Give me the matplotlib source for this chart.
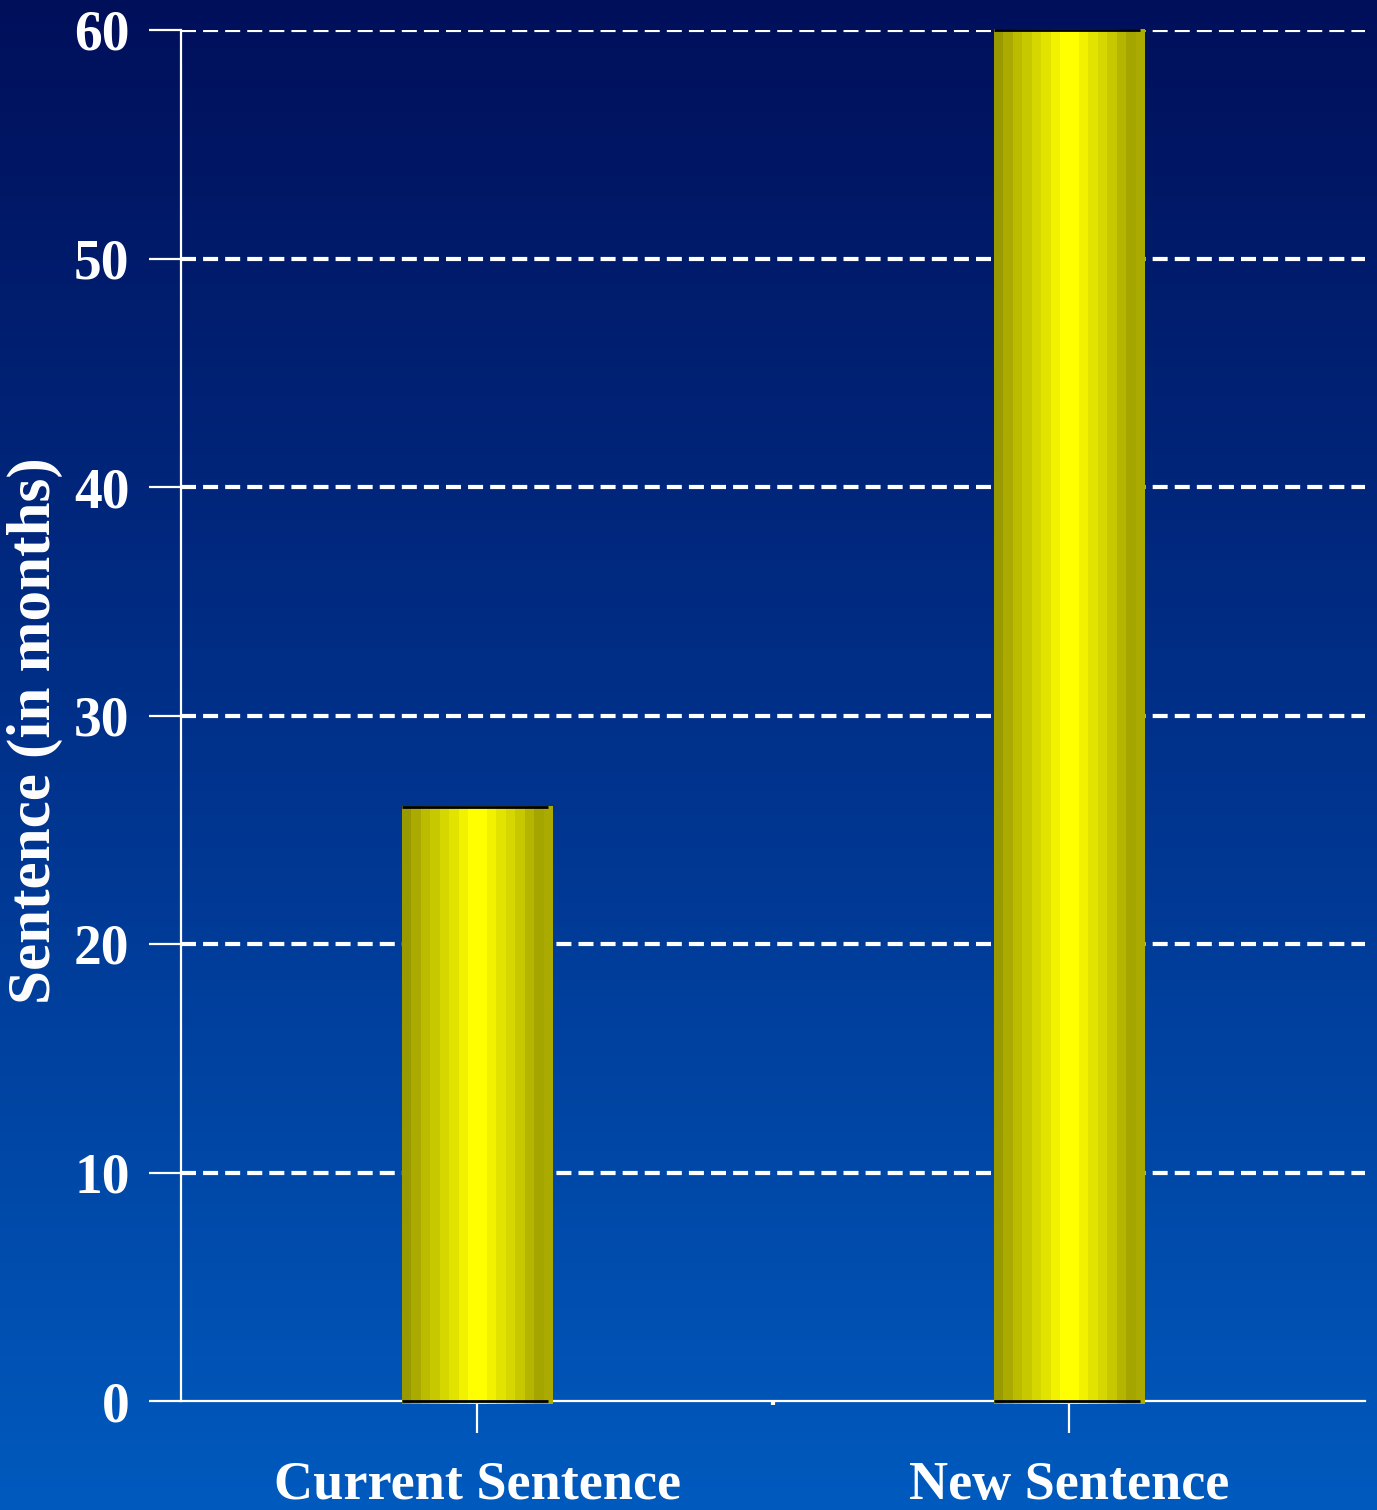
import numpy as np
import matplotlib
matplotlib.use("Agg")
import matplotlib.pyplot as plt
from matplotlib.colors import LinearSegmentedColormap, ListedColormap

categories = ["Current Sentence", "New Sentence"]
months = [26, 60]
yticks = [0, 10, 20, 30, 40, 50, 60]

plt.rcParams['font.family'] = ['Liberation Serif', 'DejaVu Serif']
plt.rcParams['font.weight'] = 'bold'
plt.rcParams['axes.labelweight'] = 'bold'

fig = plt.figure(figsize=(13.77, 15.10), dpi=100)

# background gradient, dark navy at top to blue at bottom
bg = fig.add_axes([0, 0, 1, 1], zorder=-10)
bg_cmap = LinearSegmentedColormap.from_list("bg", ["#005ABE", "#01328C", "#000F5A"])
bg.imshow(np.linspace(0, 1, 256).reshape(-1, 1)[::-1], aspect='auto', cmap=bg_cmap,
          extent=[0, 1, 0, 1])
bg.axis('off')

ax = fig.add_axes([181 / 1377, 109 / 1510, 1184 / 1377, 1371 / 1510])
ax.patch.set_alpha(0)

x = np.arange(len(categories))
bars = ax.bar(x, months, width=0.255, color='none', edgecolor='none', zorder=3)

# stepped cylinder shading for the bars
shade = ["#999900", "#AAAA00", "#BBBB00", "#C8C800", "#D6D600", "#E3E300", "#F2F200",
         "#FFFF00", "#FFFF00", "#F2F200", "#E3E300", "#D6D600", "#C8C800", "#B5B500",
         "#A5A500", "#AAAA00"]
shade_cmap = ListedColormap(shade)
for b in bars:
    x0, y0 = b.get_x(), b.get_y()
    w, h = b.get_width(), b.get_height()
    im = ax.imshow(np.arange(len(shade)).reshape(1, -1), cmap=shade_cmap, aspect='auto',
                   extent=[x0, x0 + w, y0 - 0.15, y0 + h], zorder=3, interpolation='nearest')
    im.set_clip_on(False)
    ax.plot([x0, x0 + w * 0.97], [y0 + h, y0 + h], color='black', lw=2, zorder=4,
            solid_capstyle='butt', clip_on=False)
    ax.plot([x0, x0 + w * 0.97], [y0, y0], color='black', lw=2, zorder=4,
            solid_capstyle='butt', clip_on=False)

ax.set_xlim(-0.5, 1.5)
ax.set_ylim(0, 60)
ax.set_yticks(yticks)
ax.set_xticks(x)
ax.set_xticklabels(categories)
ax.set_xticks([0.5], minor=True)

ax.yaxis.grid(True, color='white', lw=3, linestyle=(0, (3.6, 1.7)), zorder=1)
ax.set_axisbelow(True)
ax.get_ygridlines()[0].set_visible(False)

for s in ['top', 'right']:
    ax.spines[s].set_visible(False)
for s in ['left', 'bottom']:
    ax.spines[s].set_color('white')
    ax.spines[s].set_linewidth(1.6)
    ax.spines[s].set_zorder(2)

ax.tick_params(axis='y', colors='white', length=23, width=1.6, labelsize=40, pad=14)
ax.tick_params(axis='x', colors='white', length=23, width=1.6, labelsize=39, pad=20)
ax.tick_params(axis='x', which='minor', length=3, width=3, colors='white')

ax.set_ylabel("Sentence (in months)", color='white', fontsize=44)
ax.yaxis.set_label_coords(-0.1, 0.489)

fig.savefig("out.png", dpi=100)
